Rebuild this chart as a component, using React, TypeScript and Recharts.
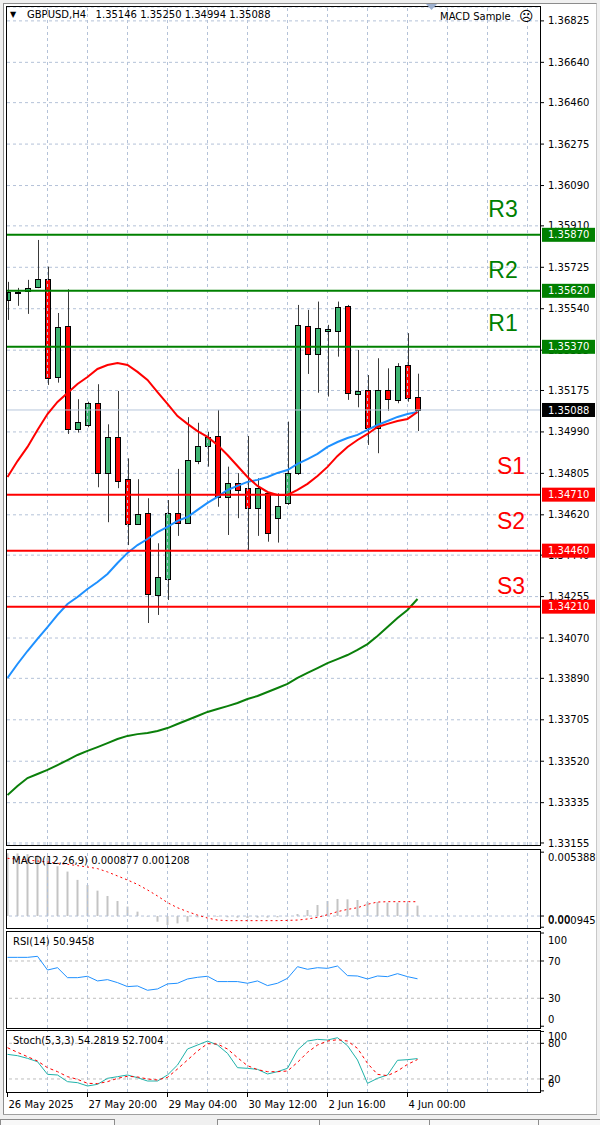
import {
  Bar,
  CartesianGrid,
  ComposedChart,
  Line,
  ReferenceLine,
  XAxis,
  YAxis,
} from "recharts";

const FONT = "DejaVu Sans";
const GRID = "#b4c2d8";
const LEVEL_GREEN = "#008000";
const LEVEL_RED = "#ff0000";
const BULL = "#3cb371";
const BEAR = "#ff0000";
const WICK = "#3a3a3a";

// GBPUSD H4 bars
const open = [1.35579, 1.35611, 1.35621, 1.35636, 1.35672, 1.35234, 1.35464, 1.35003, 1.35021, 1.35118, 1.34806, 1.34966, 1.34779, 1.34578, 1.34627, 1.34262, 1.34332, 1.34627, 1.34585, 1.3486, 1.34927, 1.34972, 1.34701, 1.34761, 1.34739, 1.34649, 1.34716, 1.34605, 1.34672, 1.34806, 1.35463, 1.35338, 1.35442, 1.35442, 1.35553, 1.3516, 1.35177, 1.35009, 1.35177, 1.35133, 1.35289, 1.35146];
const high = [1.3566, 1.35633, 1.35669, 1.35847, 1.35728, 1.35521, 1.35627, 1.35136, 1.35125, 1.35203, 1.35024, 1.35173, 1.34872, 1.34779, 1.34694, 1.34493, 1.34686, 1.34825, 1.35056, 1.35031, 1.34991, 1.35088, 1.34835, 1.34806, 1.34972, 1.34783, 1.3472, 1.34716, 1.35036, 1.35557, 1.35535, 1.35572, 1.35468, 1.35572, 1.35557, 1.35356, 1.35244, 1.35319, 1.35274, 1.35297, 1.35431, 1.3525];
const low = [1.3549, 1.35553, 1.35517, 1.35632, 1.352, 1.3521, 1.34981, 1.34987, 1.35011, 1.34743, 1.34587, 1.34739, 1.34485, 1.34575, 1.34137, 1.34173, 1.3424, 1.34526, 1.34582, 1.34846, 1.34835, 1.34656, 1.3453, 1.34605, 1.34463, 1.34526, 1.345, 1.34496, 1.34664, 1.34798, 1.35249, 1.35165, 1.35148, 1.35326, 1.35133, 1.351, 1.34932, 1.34895, 1.35084, 1.35118, 1.35125, 1.34994];
const close = [1.35615, 1.35614, 1.35634, 1.35672, 1.3523, 1.3546, 1.35003, 1.35033, 1.35118, 1.34806, 1.34966, 1.34772, 1.34578, 1.34622, 1.34265, 1.34344, 1.34627, 1.34585, 1.34865, 1.34927, 1.34966, 1.34701, 1.34761, 1.34731, 1.34649, 1.34739, 1.34538, 1.3466, 1.34806, 1.35468, 1.35338, 1.35456, 1.3545, 1.35549, 1.35165, 1.35173, 1.35009, 1.35177, 1.35137, 1.35285, 1.35143, 1.35088];

// moving averages (red / blue / green)
const maFast = [1.34789, 1.3486, 1.34923, 1.34999, 1.3507, 1.35124, 1.35164, 1.35204, 1.35235, 1.35271, 1.35289, 1.35298, 1.35289, 1.35258, 1.35222, 1.35168, 1.35115, 1.35061, 1.35026, 1.34994, 1.34968, 1.34932, 1.34887, 1.34838, 1.34789, 1.34749, 1.34722, 1.34709, 1.34709, 1.34731, 1.34758, 1.34793, 1.34834, 1.34883, 1.34923, 1.34954, 1.34981, 1.35012, 1.35026, 1.35039, 1.35048, 1.35079];
const maMid = [1.33892, 1.33954, 1.34012, 1.34066, 1.34119, 1.34173, 1.34222, 1.34253, 1.34289, 1.3432, 1.34356, 1.34405, 1.3445, 1.34485, 1.34512, 1.34543, 1.34566, 1.34593, 1.3461, 1.34642, 1.34673, 1.347, 1.34731, 1.34749, 1.34767, 1.34776, 1.34789, 1.34807, 1.3482, 1.34847, 1.34869, 1.34892, 1.34923, 1.34945, 1.34963, 1.34977, 1.34999, 1.35021, 1.35039, 1.35057, 1.3507, 1.35079];
const maSlow = [1.33369, 1.33409, 1.33445, 1.33463, 1.33481, 1.33503, 1.33525, 1.33548, 1.33566, 1.33583, 1.33601, 1.33619, 1.33633, 1.33641, 1.33646, 1.33655, 1.33668, 1.33686, 1.33704, 1.33722, 1.3374, 1.33753, 1.33766, 1.3378, 1.33798, 1.33811, 1.33829, 1.33847, 1.33865, 1.33892, 1.33914, 1.33936, 1.33958, 1.33976, 1.33994, 1.34017, 1.34043, 1.34079, 1.34119, 1.34159, 1.34195, 1.34244];

// indicators
const macdMain = [0.0053, 0.00528, 0.00522, 0.00515, 0.0049, 0.0042, 0.00375, 0.00305, 0.00262, 0.00214, 0.00169, 0.00127, 0.0008, 0.00037, -0.00005, -0.00048, -0.00076, -0.00062, -0.00048, -0.00011, -0.00004, -0.00006, -0.00011, -0.00014, -0.00017, -0.00014, -0.00014, -0.00011, -0.00003, 0.00017, 0.00051, 0.00093, 0.00127, 0.00144, 0.00141, 0.00135, 0.00118, 0.00118, 0.00113, 0.00113, 0.00107, 0.000877];
const macdSignal = [0.00487, 0.00481, 0.00473, 0.00464, 0.00456, 0.00445, 0.00436, 0.00425, 0.00414, 0.004, 0.00372, 0.00338, 0.00304, 0.00267, 0.0022, 0.00169, 0.00113, 0.0007, 0.00037, 0.00008, -0.00017, -0.00034, -0.00039, -0.00039, -0.00039, -0.00039, -0.00039, -0.00039, -0.00037, -0.00034, -0.00025, -0.00011, 0.00011, 0.00037, 0.00056, 0.0007, 0.00099, 0.00118, 0.00121, 0.00121, 0.00121, 0.001208];
const rsi = [73.9, 73.9, 73.9, 75.0, 60.3, 62.8, 52.1, 52.1, 53.6, 48.6, 50.0, 46.8, 42.5, 43.2, 38.6, 40.0, 45.4, 46.1, 50.7, 52.5, 53.6, 47.9, 47.9, 47.9, 46.1, 48.6, 43.6, 46.1, 51.4, 63.9, 61.1, 62.8, 62.1, 64.6, 54.3, 53.9, 50.7, 53.9, 53.2, 56.4, 53.2, 50.9];
const stochK = [61.4, 59.2, 54.7, 49.1, 27.8, 26.7, 15.5, 13.8, 8.2, 11.0, 21.1, 23.9, 26.7, 22.2, 16.6, 16.6, 26.7, 43.5, 70.4, 77.1, 83.8, 77.1, 63.1, 39.0, 37.9, 36.2, 28.4, 32.3, 37.9, 68.7, 83.8, 86.6, 85.5, 89.4, 76.0, 51.9, 12.7, 21.1, 26.7, 51.4, 52.5, 54.3];
const stochD = [72.6, 64.8, 57.5, 50.2, 39.0, 32.3, 23.9, 19.4, 12.7, 12.2, 15.5, 21.1, 24.5, 23.4, 20.0, 18.3, 22.8, 36.8, 51.9, 67.0, 79.4, 78.8, 70.4, 55.8, 42.4, 35.7, 32.3, 32.3, 33.4, 48.0, 64.8, 77.1, 83.8, 86.1, 83.8, 71.5, 46.3, 27.8, 25.6, 33.4, 44.6, 52.7];

// axes and levels
const priceTicks = [1.36825, 1.3664, 1.3646, 1.36275, 1.3609, 1.3591, 1.35725, 1.3554, 1.35355, 1.35175, 1.3499, 1.34805, 1.3462, 1.3444, 1.34255, 1.3407, 1.3389, 1.33705, 1.3352, 1.33335, 1.33155];
const dateIdx = [0, 8, 16, 24, 32, 40];
const dateLabels = ["26 May 2025", "27 May 20:00", "29 May 04:00", "30 May 12:00", "2 Jun 16:00", "4 Jun 00:00"];
const gridIdx = [4, 8, 12, 16, 20, 24, 28, 32, 36, 40, 44, 48, 52];
const levelNames = ["R3", "R2", "R1", "S1", "S2", "S3"];
const levelPrices = [1.3587, 1.3562, 1.3537, 1.3471, 1.3446, 1.3421];
const lastPrice = 1.35088;

const LEVEL_LIFT = [26, 21, 24, 29, 30, 21];
const X_DOMAIN = [-0.05, 53.25];
const MAIN_DOMAIN = [1.33146, 1.36887];

const rows = open.map((o, i) => ({
  x: i,
  o,
  h: high[i],
  l: low[i],
  c: close[i],
  range: [low[i], high[i]],
  fast: maFast[i],
  mid: maMid[i],
  slow: maSlow[i],
  macd: macdMain[i],
  signal: macdSignal[i],
  rsi: rsi[i],
  k: stochK[i],
  d: stochD[i],
}));

function Candle(props: any) {
  const { x, y, width, height, payload } = props;
  if (!payload || !height) return null;
  const { o, h, l, c } = payload;
  const k = height / (h - l);
  const left = Math.round(x);
  const cx = left + Math.floor(width / 2) + 0.5;
  const top = Math.round(y + (h - Math.max(o, c)) * k);
  const bottom = Math.round(y + (h - Math.min(o, c)) * k);
  return (
    <g>
      <line x1={cx} x2={cx} y1={Math.max(y, 7)} y2={y + height} stroke={WICK} strokeWidth={1} />
      <rect
        x={Math.max(left + 0.5, 7.5)}
        y={top + 0.5}
        width={width - 1 - Math.max(0, 7 - left)}
        height={Math.max(bottom - top, 1)}
        fill={c >= o ? BULL : BEAR}
        stroke="#000"
        strokeWidth={1}
      />
    </g>
  );
}

function PriceTag(props: any) {
  const { viewBox, name, value, color, lift, nameX } = props;
  if (!viewBox) return null;
  const right = viewBox.x + viewBox.width;
  const y = viewBox.y;
  return (
    <g>
      {name ? (
        <text
          x={right - nameX}
          y={y - lift}
          fill={color}
          fontSize={23}
          fontFamily="Liberation Sans"
          textAnchor="middle"
          dominantBaseline="central"
        >
          {name}
        </text>
      ) : null}
      <rect x={right + 2} y={y - 7} width={53} height={14} fill={color} />
      <text x={right + 8} y={y} dy="0.355em" fill="#fff" fontSize={10} fontFamily={FONT}>
        {value.toFixed(5)}
      </text>
    </g>
  );
}

function SideTick(props: any) {
  const { x, y, payload, labels, shift } = props;
  const key = String(payload.value);
  return (
    <text x={x} y={y + (shift[key] || 0)} dy="0.355em" fill="#000" fontSize={10} fontFamily={FONT} textAnchor="start">
      {labels[key] ?? payload.value}
    </text>
  );
}

function DateTick(props: any) {
  const { x, y, payload } = props;
  const i = dateIdx.indexOf(payload.value);
  return (
    <text x={x + 1} y={y + 9} fill="#000" fontSize={10} fontFamily={FONT} textAnchor="start">
      {dateLabels[i]}
    </text>
  );
}

const vGrid = (id: string) =>
  gridIdx.map((i) => (
    <ReferenceLine key={id + i} x={i} stroke={GRID} strokeDasharray="3 3" />
  ));

const hiddenX = <XAxis type="number" dataKey="x" domain={X_DOMAIN} allowDataOverflow hide />;

const sideAxis = {
  orientation: "right" as const,
  type: "number" as const,
  width: 60,
  axisLine: false,
  tickLine: { stroke: "#000" },
  tickSize: 4,
  tickMargin: 4,
  interval: 0 as const,
  allowDataOverflow: true,
};

const abs = (left: number, top: number, extra: any = {}) => ({
  position: "absolute" as const,
  left,
  top,
  ...extra,
});

function Frame({ top, height }: { top: number; height: number }) {
  return (
    <div
      style={abs(6, top, {
        width: 535,
        height,
        border: "1px solid #000",
        boxSizing: "border-box",
        pointerEvents: "none",
      })}
    />
  );
}

function Caption({ left, top, children }: { left: number; top: number; children: any }) {
  return (
    <div style={abs(left, top, { fontSize: 10, lineHeight: "12px", whiteSpace: "pre", color: "#000" })}>
      {children}
    </div>
  );
}

const MAIN_MARGIN = { top: 7, right: 0, bottom: 15, left: 7 };

export default function App() {
  return (
    <div
      style={{
        position: "absolute",
        left: 0,
        top: 0,
        width: 600,
        height: 1125,
        background: "#f0f0f0",
        fontFamily: FONT,
        overflow: "hidden",
      }}
    >
      <div
        style={abs(3, 3, {
          width: 594,
          height: 1111,
          background: "#fff",
          borderLeft: "1px solid #8c8c8c",
          borderTop: "1px solid #8c8c8c",
          borderRight: "1px solid #c8c8c8",
          boxSizing: "border-box",
        })}
      />

      {/* main price pane */}
      <div style={abs(0, 0)}>
        <ComposedChart width={600} height={860} data={rows} margin={MAIN_MARGIN}>
          {hiddenX}
          <YAxis
            {...sideAxis}
            domain={MAIN_DOMAIN}
            ticks={priceTicks}
            tick={{ fill: "#000", fontSize: 10, fontFamily: FONT, textAnchor: "start" }}
            tickFormatter={(v: number) => v.toFixed(5)}
          />
          <CartesianGrid vertical={false} stroke={GRID} strokeDasharray="3 3" />
          {vGrid("m")}
          <ReferenceLine y={lastPrice} stroke="#b8c6dc" strokeWidth={1} />
          <Bar dataKey="range" barSize={6} shape={<Candle />} isAnimationActive={false} />
          <Line dataKey="slow" stroke="#0a7f0a" strokeWidth={2} dot={false} isAnimationActive={false} />
          <Line dataKey="mid" stroke="#1e90ff" strokeWidth={2} dot={false} isAnimationActive={false} />
          <Line dataKey="fast" stroke="#ff0000" strokeWidth={2} dot={false} isAnimationActive={false} />
        </ComposedChart>
      </div>

      {/* horizontal line objects and price tags, drawn above candles and axis labels */}
      <div style={abs(0, 0)}>
        <ComposedChart width={600} height={860} data={rows} margin={MAIN_MARGIN}>
          {hiddenX}
          <YAxis {...sideAxis} domain={MAIN_DOMAIN} tick={false} tickLine={false} />
          <ReferenceLine
            y={lastPrice}
            stroke="none"
            label={<PriceTag value={lastPrice} color="#000" />}
          />
          {levelPrices.map((p, i) => {
            const color = levelNames[i][0] === "R" ? LEVEL_GREEN : LEVEL_RED;
            return (
              <ReferenceLine
                key={levelNames[i]}
                y={p}
                stroke={color}
                strokeWidth={2}
                label={
                  <PriceTag
                    name={levelNames[i]}
                    value={p}
                    color={color}
                    lift={LEVEL_LIFT[i]}
                    nameX={levelNames[i][0] === "R" ? 37 : 29}
                  />
                }
              />
            );
          })}
        </ComposedChart>
      </div>

      {/* MACD pane */}
      <div style={abs(0, 850)}>
        <ComposedChart width={600} height={78} data={rows} margin={{ top: 0, right: 0, bottom: 0, left: 7 }}>
          {hiddenX}
          <YAxis
            {...sideAxis}
            domain={[-0.00101, 0.00557]}
            ticks={[0.005388, 0, -0.000945]}
            tick={
              <SideTick
                labels={{ "0.005388": "0.005388", "0": "0.00", "-0.000945": "0.000945" }}
                shift={{ "0.005388": 5, "0": 3, "-0.000945": -7 }}
              />
            }
          />
          {vGrid("a")}
          <ReferenceLine y={0} stroke={GRID} strokeDasharray="3 3" />
          <Bar dataKey="macd" fill="#c4c4c4" barSize={2} isAnimationActive={false} />
          <Line dataKey="signal" stroke="#ff0000" strokeWidth={1} strokeDasharray="2 3" dot={false} isAnimationActive={false} />
        </ComposedChart>
      </div>

      {/* RSI pane */}
      <div style={abs(0, 932)}>
        <ComposedChart width={600} height={96} data={rows} margin={{ top: 0, right: 0, bottom: 0, left: 7 }}>
          {hiddenX}
          <YAxis
            {...sideAxis}
            domain={[-1.9, 101.1]}
            ticks={[100, 70, 30, 0]}
            tick={<SideTick labels={{}} shift={{ "100": 7, "0": -7 }} />}
          />
          {vGrid("r")}
          <ReferenceLine y={70} stroke="#bdbdbd" strokeDasharray="3 3" />
          <ReferenceLine y={30} stroke="#bdbdbd" strokeDasharray="3 3" />
          <Line dataKey="rsi" stroke="#1e90ff" strokeWidth={1} dot={false} isAnimationActive={false} />
        </ComposedChart>
      </div>

      {/* Stochastic pane + time axis */}
      <div style={abs(0, 1031)}>
        <ComposedChart width={600} height={82} data={rows} margin={{ top: 0, right: 0, bottom: 0, left: 7 }}>
          <XAxis
            type="number"
            dataKey="x"
            domain={X_DOMAIN}
            allowDataOverflow
            ticks={dateIdx}
            interval={0}
            height={21}
            axisLine={false}
            tickLine={{ stroke: "#000" }}
            tickSize={5}
            tickMargin={2}
            tick={<DateTick />}
          />
          <YAxis
            {...sideAxis}
            domain={[-1.9, 100.7]}
            ticks={[100, 80, 20, 0]}
            tick={<SideTick labels={{}} shift={{ "100": 5, "0": -7 }} />}
          />
          {vGrid("s")}
          <ReferenceLine y={80} stroke="#bdbdbd" strokeDasharray="3 3" />
          <ReferenceLine y={20} stroke="#bdbdbd" strokeDasharray="3 3" />
          <Line dataKey="k" stroke="#20b2aa" strokeWidth={1} dot={false} isAnimationActive={false} />
          <Line dataKey="d" stroke="#ff0000" strokeWidth={1} strokeDasharray="3 3" dot={false} isAnimationActive={false} />
        </ComposedChart>
      </div>

      <Frame top={6} height={840} />
      <Frame top={849} height={80} />
      <Frame top={931} height={98} />
      <Frame top={1030} height={63} />

      {/* captions */}
      <div style={abs(10, 11, { fontSize: 8, lineHeight: "8px" })}>▼</div>
      <Caption left={27} top={9}>GBPUSD,H4   1.35146 1.35250 1.34994 1.35088</Caption>
      <svg style={abs(425, 3)} width={14} height={8}>
        <polygon points="1,1 12,1 6.5,7" fill="#9db0cf" />
      </svg>
      <Caption left={440} top={11}>MACD Sample</Caption>
      <div style={abs(519, 8, { fontSize: 14, lineHeight: "16px", color: "#000" })}>☹</div>
      <Caption left={12} top={855}>MACD(12,26,9) 0.000877 0.001208</Caption>
      <Caption left={13} top={936}>RSI(14) 50.9458</Caption>
      <Caption left={13} top={1035}>Stoch(5,3,3) 54.2819 52.7004</Caption>

      {/* tab strip */}
      <div style={abs(3, 1114, { width: 594, height: 1, background: "#a0a0a0" })} />
      <div style={abs(0, 1119, { width: 115, height: 8, border: "1px solid #8c8c8c", background: "#f8f8f8", boxSizing: "border-box" })} />
      <div style={abs(217, 1119, { width: 385, height: 8, border: "1px solid #8c8c8c", background: "#f8f8f8", boxSizing: "border-box" })} />
      <div style={abs(319, 1119, { width: 1, height: 6, background: "#8c8c8c" })} />
      <div style={abs(429, 1119, { width: 1, height: 6, background: "#8c8c8c" })} />
      <div style={abs(538, 1119, { width: 1, height: 6, background: "#8c8c8c" })} />
    </div>
  );
}
